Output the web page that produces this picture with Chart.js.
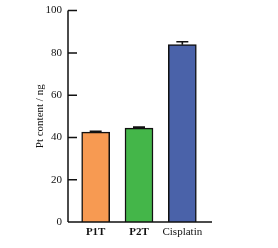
<!DOCTYPE html>
<html>
<head>
<meta charset="utf-8">
<script src="https://cdn.jsdelivr.net/npm/chart.js@4"></script>
<style>
html,body{margin:0;padding:0;background:#fff;}
#wrap{width:278px;height:248px;}
</style>
</head>
<body>
<div id="wrap"><canvas id="c" width="278" height="248"></canvas></div>
<script>
const categories = ['P1T', 'P2T', 'Cisplatin'];
const values = [42.5, 44.4, 83.9];
const errors = [0.4, 0.5, 1.4];
const yTicks = [0, 20, 40, 60, 80, 100];
const barColors = ['#F79A52', '#44B649', '#4A62A9'];
const yTitle = 'Pt content / ng';

const FONT = '"Liberation Serif", "Times New Roman", serif';

const axesPlugin = {
  id: 'axesAndErrors',
  afterDatasetsDraw(chart) {
    const ctx = chart.ctx;
    const ys = chart.scales.y;
    const meta = chart.getDatasetMeta(0);
    ctx.save();
    ctx.strokeStyle = '#111';
    ctx.lineWidth = 1.6;
    meta.data.forEach((bar, i) => {
      const x = bar.x;
      const yTop = ys.getPixelForValue(values[i]);
      const yErr = ys.getPixelForValue(values[i] + errors[i]);
      ctx.beginPath();
      ctx.moveTo(x, yTop);
      ctx.lineTo(x, yErr);
      ctx.moveTo(x - 6, yErr);
      ctx.lineTo(x + 6, yErr);
      ctx.stroke();
    });
    const ax = chart.chartArea.left - 6;
    const y0 = ys.getPixelForValue(0);
    const y100 = ys.getPixelForValue(100);
    ctx.lineWidth = 1.5;
    ctx.beginPath();
    ctx.moveTo(ax, y100);
    ctx.lineTo(ax, y0);
    ctx.moveTo(ax, y0);
    ctx.lineTo(chart.chartArea.right + 8, y0);
    yTicks.forEach(v => {
      const yy = ys.getPixelForValue(v);
      ctx.moveTo(ax, yy);
      ctx.lineTo(ax + 9, yy);
    });
    ctx.stroke();
    ctx.restore();
  }
};

new Chart(document.getElementById('c'), {
  type: 'bar',
  data: {
    labels: categories,
    datasets: [{
      data: values,
      backgroundColor: barColors,
      borderColor: '#111',
      borderWidth: 1.5,
      barThickness: 28
    }]
  },
  options: {
    responsive: false,
    animation: false,
    devicePixelRatio: 1,
    layout: { padding: { top: 9, right: 74, left: 0, bottom: 0 } },
    plugins: { legend: { display: false }, tooltip: { enabled: false } },
    scales: {
      x: {
        grid: { display: false },
        border: { display: false },
        ticks: {
          color: '#111',
          padding: -4,
          maxRotation: 0,
          minRotation: 0,
          autoSkip: false,
          font: (c) => ({ family: FONT, size: 11, weight: c.index < 2 ? 'bold' : 'normal' })
        },
        afterFit: (s) => { s.height = 26; }
      },
      y: {
        min: 0, max: 100,
        grid: { display: false },
        border: { display: false },
        afterBuildTicks: (s) => { s.ticks = yTicks.map(v => ({ value: v })); },
        ticks: {
          color: '#111',
          padding: 4,
          font: { family: FONT, size: 11 }
        },
        title: {
          display: true,
          text: yTitle,
          color: '#111',
          font: { family: FONT, size: 11 },
          padding: { top: 34, bottom: 0 }
        },
        afterFit: (s) => { s.width = 74; }
      }
    }
  },
  plugins: [axesPlugin]
});
</script>
</body>
</html>
